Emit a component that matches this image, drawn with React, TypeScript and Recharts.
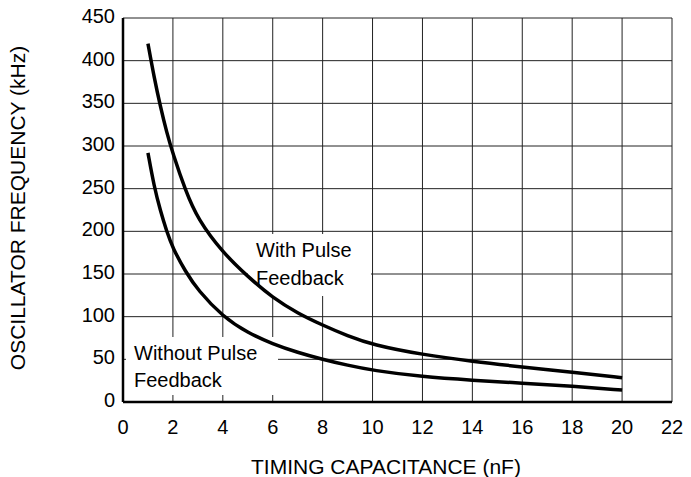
import { CartesianGrid, Line, LineChart, XAxis, YAxis } from "recharts";

// timing capacitance (nF)
const capacitance = [1, 1.25, 1.5, 1.75, 2, 2.5, 3, 4, 5, 6, 7, 8, 9, 10, 12, 14, 16, 18, 20];
// oscillator frequency (kHz)
const withPulse = [420, 380, 346, 316, 291, 248, 214, 175, 147, 122, 104, 90, 77.5, 67, 55.5, 47.5, 41, 35, 28.5];
const withoutPulse = [292, 252, 224, 200, 180, 153, 131, 100, 81, 68, 58, 50, 43, 37, 29.5, 25.5, 22, 18.5, 14];

const xTicks = [0, 2, 4, 6, 8, 10, 12, 14, 16, 18, 20, 22];
const yTicks = [0, 50, 100, 150, 200, 250, 300, 350, 400, 450];

const data = capacitance.map((c, i) => ({
  c,
  withPulse: withPulse[i],
  withoutPulse: withoutPulse[i],
}));

const FONT = '"Liberation Sans", Arial, Helvetica, sans-serif';
const W = 691;
const H = 477;

const layer: React.CSSProperties = { position: "absolute", left: 0, top: 0 };

export default function App() {
  const tick = { fontSize: 20, fill: "#000", fontFamily: FONT };

  return (
    <div
      style={{
        position: "absolute",
        left: 0,
        top: 0,
        width: W,
        height: H,
        background: "#fff",
        fontFamily: FONT,
        color: "#000",
      }}
    >
      {/* grid + axes */}
      <div style={layer}>
        <LineChart width={W} height={H} data={data} margin={{ top: 18, right: 19, bottom: 0, left: 63 }}>
          <CartesianGrid stroke="#222" strokeWidth={1} />
          <XAxis
            dataKey="c"
            type="number"
            domain={[0, 22]}
            ticks={xTicks}
            height={75}
            tickSize={0}
            tickMargin={18}
            tick={tick}
            axisLine={{ stroke: "#000", strokeWidth: 2.5 }}
          />
          <YAxis
            dataKey="withPulse"
            type="number"
            domain={[0, 450]}
            ticks={yTicks}
            width={60}
            tickSize={0}
            tickMargin={8}
            tick={{ ...tick, dy: -2 }}
            axisLine={{ stroke: "#000", strokeWidth: 2.5 }}
          />
        </LineChart>
      </div>

      {/* white patches that break the grid behind the labels */}
      <div style={{ position: "absolute", left: 248, top: 234, width: 123, height: 62, background: "#fff" }} />
      <div style={{ position: "absolute", left: 126, top: 337, width: 152, height: 58, background: "#fff" }} />

      {/* curves on top */}
      <div style={layer}>
        <LineChart width={W} height={H} data={data} margin={{ top: 18, right: 19, bottom: 75, left: 123 }}>
          <XAxis dataKey="c" type="number" domain={[0, 22]} hide />
          <YAxis type="number" domain={[0, 450]} hide />
          <Line
            type="basis"
            dataKey="withPulse"
            stroke="#000"
            strokeWidth={3.5}
            dot={false}
            isAnimationActive={false}
          />
          <Line
            type="basis"
            dataKey="withoutPulse"
            stroke="#000"
            strokeWidth={3.5}
            dot={false}
            isAnimationActive={false}
          />
        </LineChart>
      </div>

      <div style={{ position: "absolute", left: 256, top: 236, fontSize: 20, lineHeight: "28px" }}>
        With Pulse
        <br />
        Feedback
      </div>
      <div style={{ position: "absolute", left: 134, top: 340, fontSize: 20, lineHeight: "27px" }}>
        Without Pulse
        <br />
        Feedback
      </div>

      <div
        style={{
          position: "absolute",
          left: 18,
          top: 208,
          fontSize: 21,
          whiteSpace: "nowrap",
          transform: "translate(-50%, -50%) rotate(-90deg)",
        }}
      >
        OSCILLATOR FREQUENCY (kHz)
      </div>
      <div
        style={{
          position: "absolute",
          left: 386,
          top: 467,
          fontSize: 21,
          whiteSpace: "nowrap",
          transform: "translate(-50%, -50%)",
        }}
      >
        TIMING CAPACITANCE (nF)
      </div>
    </div>
  );
}
